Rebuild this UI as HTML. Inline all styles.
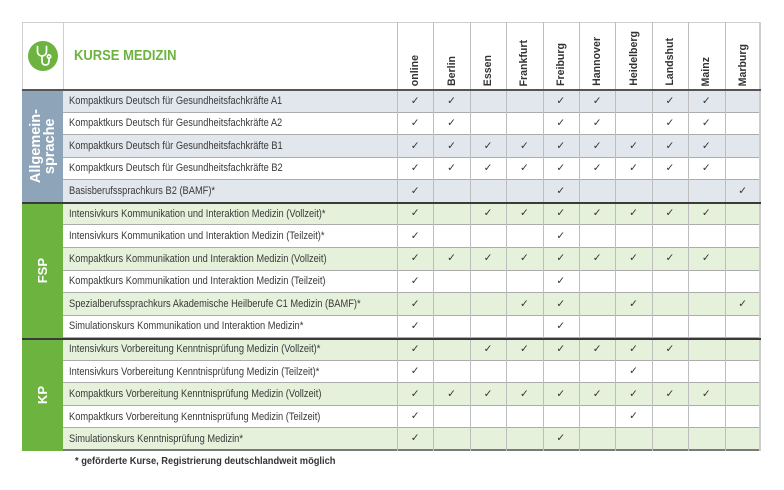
<!DOCTYPE html>
<html><head><meta charset="utf-8">
<style>
*{margin:0;padding:0;box-sizing:border-box}
body{width:784px;height:490px;background:#fff;position:relative;overflow:hidden;font-family:"Liberation Sans","DejaVu Sans",sans-serif;color:#333}
.abs{position:absolute}
.r{position:absolute;left:63px;width:698px;height:22.5625px;display:grid;grid-template-columns:334px repeat(10,36.4px);border-bottom:1px solid #ababab;align-items:center}
.g{background:#e2e6ed}
.gr{background:#e5f1da}
.w{background:#fff}
.lab{padding-left:7px;white-space:nowrap;font-size:10.8px;transform:scaleX(0.86);transform-origin:left center;color:#3a3a3a}
.c{text-align:center;font-family:"DejaVu Sans",sans-serif;font-size:10.5px;color:#333;line-height:1}
.vl{position:absolute;width:1px;background:#bdbdbd;top:22px;height:429px;z-index:3}
.hd{position:absolute;top:22px;width:36.4px;height:64px;display:flex;justify-content:center;align-items:flex-end;z-index:4}
.hd span{writing-mode:vertical-rl;transform:rotate(180deg);font-weight:bold;font-size:10.6px;color:#333;white-space:nowrap;line-height:12px}
.sec{position:absolute;left:22px;width:41px;display:flex;justify-content:center;align-items:center;z-index:5}
.sec span{writing-mode:vertical-rl;transform:rotate(180deg);color:#fff;font-weight:bold;text-align:center;white-space:nowrap}
.dl{position:absolute;left:22px;width:739px;height:2px;background:#3a3a3a;z-index:6}
</style></head><body>

<!-- header box -->
<div class="abs" style="left:22px;top:22px;width:739px;height:69px;border-top:1px solid #cfcfcf;border-left:1px solid #cfcfcf;"></div>
<div class="abs" style="left:63px;top:22px;width:1px;height:68px;background:#cfcfcf"></div>
<svg class="abs" style="left:0;top:0" width="100" height="90">
<circle cx="43" cy="56" r="15" fill="#6db33f"/>
<g fill="none" stroke="#fff" stroke-width="1.7" stroke-linecap="round">
<path d="M37.5,46.5 v5 a4.5,4.5 0 0 0 9,0 v-5"/>
<path d="M42,56 v5 q0,4 3.5,4 q3.5,0 3.5,-4 v-2.5"/>
<circle cx="49" cy="56.5" r="1.7"/>
</g>
</svg>
<div class="abs" style="left:74px;top:48px;font-size:14.6px;font-weight:bold;color:#6db33f;transform:scaleX(0.89);transform-origin:left center;white-space:nowrap;line-height:17px">KURSE MEDIZIN</div>

<div class="hd" style="left:397px"><span>online</span></div>
<div class="hd" style="left:433.4px"><span>Berlin</span></div>
<div class="hd" style="left:469.8px"><span>Essen</span></div>
<div class="hd" style="left:506.2px"><span>Frankfurt</span></div>
<div class="hd" style="left:542.6px"><span>Freiburg</span></div>
<div class="hd" style="left:579px"><span>Hannover</span></div>
<div class="hd" style="left:615.4px"><span>Heidelberg</span></div>
<div class="hd" style="left:651.8px"><span>Landshut</span></div>
<div class="hd" style="left:688.2px"><span>Mainz</span></div>
<div class="hd" style="left:724.6px"><span>Marburg</span></div>

<!-- rows -->
<div class="r g" style="top:90px"><div class="lab">Kompaktkurs Deutsch für Gesundheitsfachkräfte A1</div><div class="c">✓</div><div class="c">✓</div><div class="c"></div><div class="c"></div><div class="c">✓</div><div class="c">✓</div><div class="c"></div><div class="c">✓</div><div class="c">✓</div><div class="c"></div></div>
<div class="r w" style="top:112.56px"><div class="lab">Kompaktkurs Deutsch für Gesundheitsfachkräfte A2</div><div class="c">✓</div><div class="c">✓</div><div class="c"></div><div class="c"></div><div class="c">✓</div><div class="c">✓</div><div class="c"></div><div class="c">✓</div><div class="c">✓</div><div class="c"></div></div>
<div class="r g" style="top:135.13px"><div class="lab">Kompaktkurs Deutsch für Gesundheitsfachkräfte B1</div><div class="c">✓</div><div class="c">✓</div><div class="c">✓</div><div class="c">✓</div><div class="c">✓</div><div class="c">✓</div><div class="c">✓</div><div class="c">✓</div><div class="c">✓</div><div class="c"></div></div>
<div class="r w" style="top:157.69px"><div class="lab">Kompaktkurs Deutsch für Gesundheitsfachkräfte B2</div><div class="c">✓</div><div class="c">✓</div><div class="c">✓</div><div class="c">✓</div><div class="c">✓</div><div class="c">✓</div><div class="c">✓</div><div class="c">✓</div><div class="c">✓</div><div class="c"></div></div>
<div class="r g" style="top:180.25px"><div class="lab">Basisberufssprachkurs B2 (BAMF)*</div><div class="c">✓</div><div class="c"></div><div class="c"></div><div class="c"></div><div class="c">✓</div><div class="c"></div><div class="c"></div><div class="c"></div><div class="c"></div><div class="c">✓</div></div>

<div class="r gr" style="top:202.81px"><div class="lab">Intensivkurs Kommunikation und Interaktion Medizin (Vollzeit)*</div><div class="c">✓</div><div class="c"></div><div class="c">✓</div><div class="c">✓</div><div class="c">✓</div><div class="c">✓</div><div class="c">✓</div><div class="c">✓</div><div class="c">✓</div><div class="c"></div></div>
<div class="r w" style="top:225.38px"><div class="lab">Intensivkurs Kommunikation und Interaktion Medizin (Teilzeit)*</div><div class="c">✓</div><div class="c"></div><div class="c"></div><div class="c"></div><div class="c">✓</div><div class="c"></div><div class="c"></div><div class="c"></div><div class="c"></div><div class="c"></div></div>
<div class="r gr" style="top:247.94px"><div class="lab">Kompaktkurs Kommunikation und Interaktion Medizin (Vollzeit)</div><div class="c">✓</div><div class="c">✓</div><div class="c">✓</div><div class="c">✓</div><div class="c">✓</div><div class="c">✓</div><div class="c">✓</div><div class="c">✓</div><div class="c">✓</div><div class="c"></div></div>
<div class="r w" style="top:270.5px"><div class="lab">Kompaktkurs Kommunikation und Interaktion Medizin (Teilzeit)</div><div class="c">✓</div><div class="c"></div><div class="c"></div><div class="c"></div><div class="c">✓</div><div class="c"></div><div class="c"></div><div class="c"></div><div class="c"></div><div class="c"></div></div>
<div class="r gr" style="top:293.06px"><div class="lab">Spezialberufssprachkurs Akademische Heilberufe C1 Medizin (BAMF)*</div><div class="c">✓</div><div class="c"></div><div class="c"></div><div class="c">✓</div><div class="c">✓</div><div class="c"></div><div class="c">✓</div><div class="c"></div><div class="c"></div><div class="c">✓</div></div>
<div class="r w" style="top:315.63px"><div class="lab">Simulationskurs Kommunikation und Interaktion Medizin*</div><div class="c">✓</div><div class="c"></div><div class="c"></div><div class="c"></div><div class="c">✓</div><div class="c"></div><div class="c"></div><div class="c"></div><div class="c"></div><div class="c"></div></div>

<div class="r gr" style="top:338.19px"><div class="lab">Intensivkurs Vorbereitung Kenntnisprüfung Medizin (Vollzeit)*</div><div class="c">✓</div><div class="c"></div><div class="c">✓</div><div class="c">✓</div><div class="c">✓</div><div class="c">✓</div><div class="c">✓</div><div class="c">✓</div><div class="c"></div><div class="c"></div></div>
<div class="r w" style="top:360.75px"><div class="lab">Intensivkurs Vorbereitung Kenntnisprüfung Medizin (Teilzeit)*</div><div class="c">✓</div><div class="c"></div><div class="c"></div><div class="c"></div><div class="c"></div><div class="c"></div><div class="c">✓</div><div class="c"></div><div class="c"></div><div class="c"></div></div>
<div class="r gr" style="top:383.31px"><div class="lab">Kompaktkurs Vorbereitung Kenntnisprüfung Medizin (Vollzeit)</div><div class="c">✓</div><div class="c">✓</div><div class="c">✓</div><div class="c">✓</div><div class="c">✓</div><div class="c">✓</div><div class="c">✓</div><div class="c">✓</div><div class="c">✓</div><div class="c"></div></div>
<div class="r w" style="top:405.88px"><div class="lab">Kompaktkurs Vorbereitung Kenntnisprüfung Medizin (Teilzeit)</div><div class="c">✓</div><div class="c"></div><div class="c"></div><div class="c"></div><div class="c"></div><div class="c"></div><div class="c">✓</div><div class="c"></div><div class="c"></div><div class="c"></div></div>
<div class="r gr" style="top:428.44px;border-bottom:2px solid #7a7a7a"><div class="lab">Simulationskurs Kenntnisprüfung Medizin*</div><div class="c">✓</div><div class="c"></div><div class="c"></div><div class="c"></div><div class="c">✓</div><div class="c"></div><div class="c"></div><div class="c"></div><div class="c"></div><div class="c"></div></div>

<!-- vertical grid lines -->
<div class="vl" style="left:397px"></div>
<div class="vl" style="left:433px"></div>
<div class="vl" style="left:469.5px"></div>
<div class="vl" style="left:506px"></div>
<div class="vl" style="left:542.5px"></div>
<div class="vl" style="left:579px"></div>
<div class="vl" style="left:615px"></div>
<div class="vl" style="left:651.5px"></div>
<div class="vl" style="left:688px"></div>
<div class="vl" style="left:724.5px"></div>
<div class="abs" style="left:759px;top:22px;width:2px;height:429px;background:#cdcdcd;z-index:3"></div>

<!-- header bottom and section dividers -->
<div class="dl" style="top:89px;background:#555"></div>
<div class="dl" style="top:202px"></div>
<div class="dl" style="top:337.5px"></div>

<!-- section labels -->
<div class="sec" style="top:91px;height:111px;background:#8ea4b8"><span style="font-size:14.5px;line-height:14px">Allgemein-<br>sprache</span></div>
<div class="sec" style="top:204px;height:133.5px;background:#6db33f"><span style="font-size:13px">FSP</span></div>
<div class="sec" style="top:339.5px;height:111.5px;background:#6db33f"><span style="font-size:13px">KP</span></div>

<div class="abs" style="left:75px;top:456px;font-size:10px;font-weight:bold;color:#333;white-space:nowrap;transform:scaleX(0.93);transform-origin:left center;line-height:12px">* geförderte Kurse, Registrierung deutschlandweit möglich</div>
</body></html>
